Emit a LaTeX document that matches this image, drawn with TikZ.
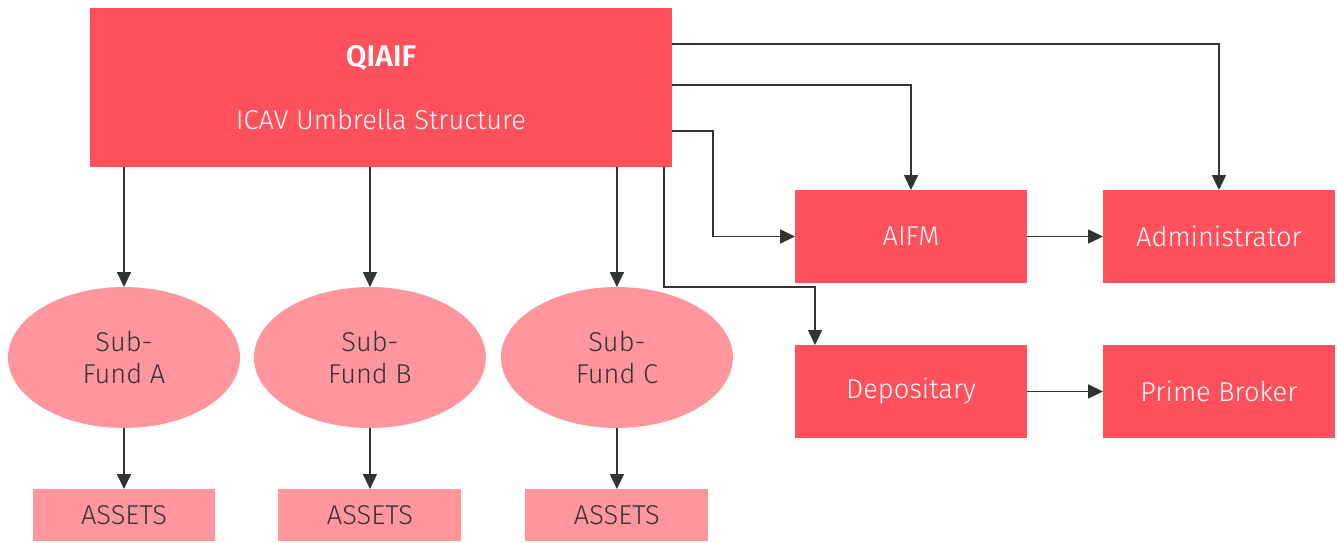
\documentclass[tikz,border=0pt]{standalone}
\usepackage{fontspec}
\setmainfont{Fira Sans}[UprightFont=* Light, BoldFont=* SemiBold]
\usetikzlibrary{positioning, shapes.geometric, arrows.meta}
\definecolor{fundred}{HTML}{FF505C}
\definecolor{fundpink}{HTML}{FF969D}
\definecolor{linegrey}{HTML}{333333}

\begin{document}
\begin{tikzpicture}[x=0.02cm,y=-0.02cm,->,>={Triangle[length=8.5pt,width=8pt]},line width=0.75pt,draw=linegrey,
    textfont/.style={font=\fontsize{15.5}{18}\selectfont},
    box/.style={rectangle,fill=fundred,text=white,inner sep=0pt,outer sep=0pt,
                minimum width=4.64cm,minimum height=1.86cm,textfont},
    fund/.style={ellipse,fill=fundpink,text=linegrey,inner sep=0pt,outer sep=0pt,
                 minimum width=4.64cm,minimum height=2.82cm,align=center,textfont},
    asset/.style={rectangle,fill=fundpink,text=linegrey,inner sep=0pt,outer sep=0pt,
                  minimum width=3.66cm,minimum height=1.04cm,textfont}]

    \useasboundingbox (0,0) rectangle (1337,542);

    % umbrella
    \node[box,minimum width=11.64cm,minimum height=3.18cm,align=center] (qiaif) at (381,87.5)
        {{\fontsize{17}{18}\selectfont\textbf{QIAIF}}\\[0.64cm]ICAV Umbrella Structure};

    % service providers
    \node[box] (aifm) at (911,236.5) {AIFM};
    \node[box] (admin) [right=1.52cm of aifm] {Administrator};
    \node[box] (depo) [below=1.24cm of aifm] {Depositary};
    \node[box] (prime) [right=1.52cm of depo] {Prime Broker};

    % sub-funds and their assets
    \node[fund] (fa) at (124,357.5) {Sub-\\Fund A};
    \node[fund] (fb) [right=0.28cm of fa] {Sub-\\Fund B};
    \node[fund] (fc) [right=0.3cm of fb] {Sub-\\Fund C};
    \node[asset] (aa) [below=1.22cm of fa] {ASSETS};
    \node[asset] (ab) [below=1.22cm of fb] {ASSETS};
    \node[asset] (ac) [below=1.22cm of fc] {ASSETS};

    \coordinate (depotop) at ([xshift=0.4cm]depo.north west);

    \draw (qiaif.south -| fa) -- (fa);
    \draw (qiaif.south -| fb) -- (fb);
    \draw (qiaif.south -| fc) -- (fc);
    \draw (fa) -- (aa);
    \draw (fb) -- (ab);
    \draw (fc) -- (ac);

    \draw (qiaif.east |- 0,44) -| (admin);
    \draw (qiaif.east |- 0,85) -| (aifm);
    \draw (qiaif.east |- 0,131) -- (713,131) |- (aifm);
    \draw (qiaif.south -| 664,0) -- (664,287) -| (depotop);
    \draw (aifm) -- (admin);
    \draw (depo) -- (prime);
\end{tikzpicture}
\end{document}
